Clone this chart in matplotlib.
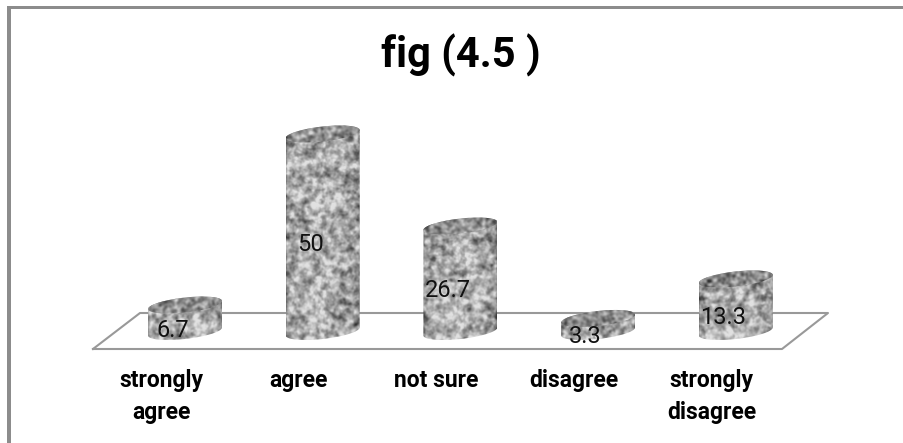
import matplotlib

matplotlib.use("Agg")
import matplotlib.pyplot as plt
import numpy as np
from matplotlib.patches import PathPatch, Rectangle
from matplotlib.path import Path
from matplotlib.transforms import ScaledTranslation

categories = ["strongly\nagree", "agree", "not sure", "disagree", "strongly\ndisagree"]
values = [6.7, 50, 26.7, 3.3, 13.3]
title = "fig (4.5 )"

W, H = 904, 443
plt.rcParams["font.family"] = ["Roboto", "DejaVu Sans"]

# pixel layout of the value scale
X0, DX = 185.0, 137.7
Y0, PX_PER_UNIT = 331.5, 3.95
FLOOR_Y = 350.0
BAR_W = 74.0
ELL_H = 15.0
TILT = 4.0


def noise(rng, h, w, sigma):
    """Speckled stone texture, only a fill, not data."""
    a = rng.normal(size=(h, w))
    fy = np.fft.fftfreq(h)[:, None]
    fx = np.fft.fftfreq(w)[None, :]
    lo = np.exp(-2 * np.pi**2 * sigma**2 * (fx**2 + fy**2))
    a = np.fft.ifft2(np.fft.fft2(a) * lo).real
    return (a - a.mean()) / a.std()


fig = plt.figure(figsize=(W / 100, H / 100), dpi=100)
ax = fig.add_axes([0, (H - FLOOR_Y) / H, 1, FLOOR_Y / H])
xlim = (-X0 / DX, (W - X0) / DX)
ylim = (-(FLOOR_Y - Y0) / PX_PER_UNIT, Y0 / PX_PER_UNIT)
ax.patch.set_alpha(0)
for s in ax.spines.values():
    s.set_visible(False)
ax.yaxis.set_visible(False)

xpx = 1 / DX
ypx = 1 / PX_PER_UNIT

# outer frame
frame = "#8c8c8c"
fig.add_artist(Rectangle((7 / W, 0), 4 / W, 1 - 6 / H, color=frame, lw=0))
fig.add_artist(Rectangle((7 / W, 1 - 8.5 / H), 1 - 7 / W, 2.5 / H, color=frame, lw=0))

# floor
floor_x = np.array([93, 782, 828, 140, 93])
floor_y = np.array([349, 349, 313, 313, 349])
ax.plot((floor_x - X0) * xpx, (Y0 - floor_y) * ypx, color="#999999", lw=1.5, clip_on=False, zorder=1)

rng = np.random.default_rng(21)
t = np.linspace(0, 2 * np.pi, 80)
for i, v in enumerate(values):
    hw = BAR_W / 2 * xpx
    eh = ELL_H / 2

    def ell(th, yc):
        return (i + hw * np.cos(th), yc + (eh * np.sin(th) + TILT * np.cos(th)) * ypx)

    # body runs along the front arc at the base and the back arc at the top
    a = np.linspace(np.pi, 2 * np.pi, 40)
    xb, yb = ell(a, 0)
    xt, yt = ell(np.linspace(0, np.pi, 40), v)
    body = np.column_stack([np.r_[xb, xt], np.r_[yb, yt]])
    xe, ye = ell(t, v)
    top_ell = np.column_stack([xe, ye])

    extent_y = (-(ELL_H + TILT) * ypx, v + (ELL_H + TILT) * ypx)
    n_h = int((extent_y[1] - extent_y[0]) * PX_PER_UNIT) + 1
    n_w = int(BAR_W) + 2
    tex = 0.8 * noise(rng, n_h, n_w, 2.0) + 0.45 * noise(rng, n_h, n_w, 0.9)
    # cylinder shading: darker towards both sides
    u = np.linspace(-1, 1, n_w)[None, :]
    shade = 0.48 + 0.22 * np.clip(1 - u**2, 0, 1) ** 0.4
    img = np.clip(shade + 0.13 * tex, 0.2, 0.88)
    im = ax.imshow(img, cmap="gray", vmin=0, vmax=1, origin="lower", aspect="auto",
                   extent=(i - hw, i + hw, *extent_y), zorder=2, interpolation="bilinear")
    im.set_clip_path(PathPatch(Path(body, closed=True), transform=ax.transData))
    tex2 = noise(rng, n_h, n_w, 1.3)
    im2 = ax.imshow(np.clip(0.55 + 0.10 * tex2, 0.2, 0.85), cmap="gray", vmin=0, vmax=1, origin="lower",
                    aspect="auto", extent=(i - hw, i + hw, *extent_y), zorder=3, interpolation="bilinear")
    im2.set_clip_path(PathPatch(Path(top_ell, closed=True), transform=ax.transData))
    ax.text(i - 12.5 * xpx, v / 2 - 9.5 * ypx, f"{v:g}", ha="center", va="center_baseline",
            fontsize=17, color="#111111", zorder=5)

ax.set_xlim(xlim)
ax.set_ylim(ylim)

# category labels
ax.set_xticks(range(len(categories)), categories, fontsize=16.5, fontweight="bold", linespacing=1.5)
ax.tick_params(axis="x", length=0, pad=14)
shift = ScaledTranslation(-24 / 100, 0, fig.dpi_scale_trans)
for lab in ax.get_xticklabels():
    lab.set_transform(lab.get_transform() + shift)

fig.text(461 / W, 1 - 55 / H, title, ha="center", va="center", fontsize=30, fontweight="bold", color="black")

fig.savefig("out.png", dpi=100)
plt.close(fig)
